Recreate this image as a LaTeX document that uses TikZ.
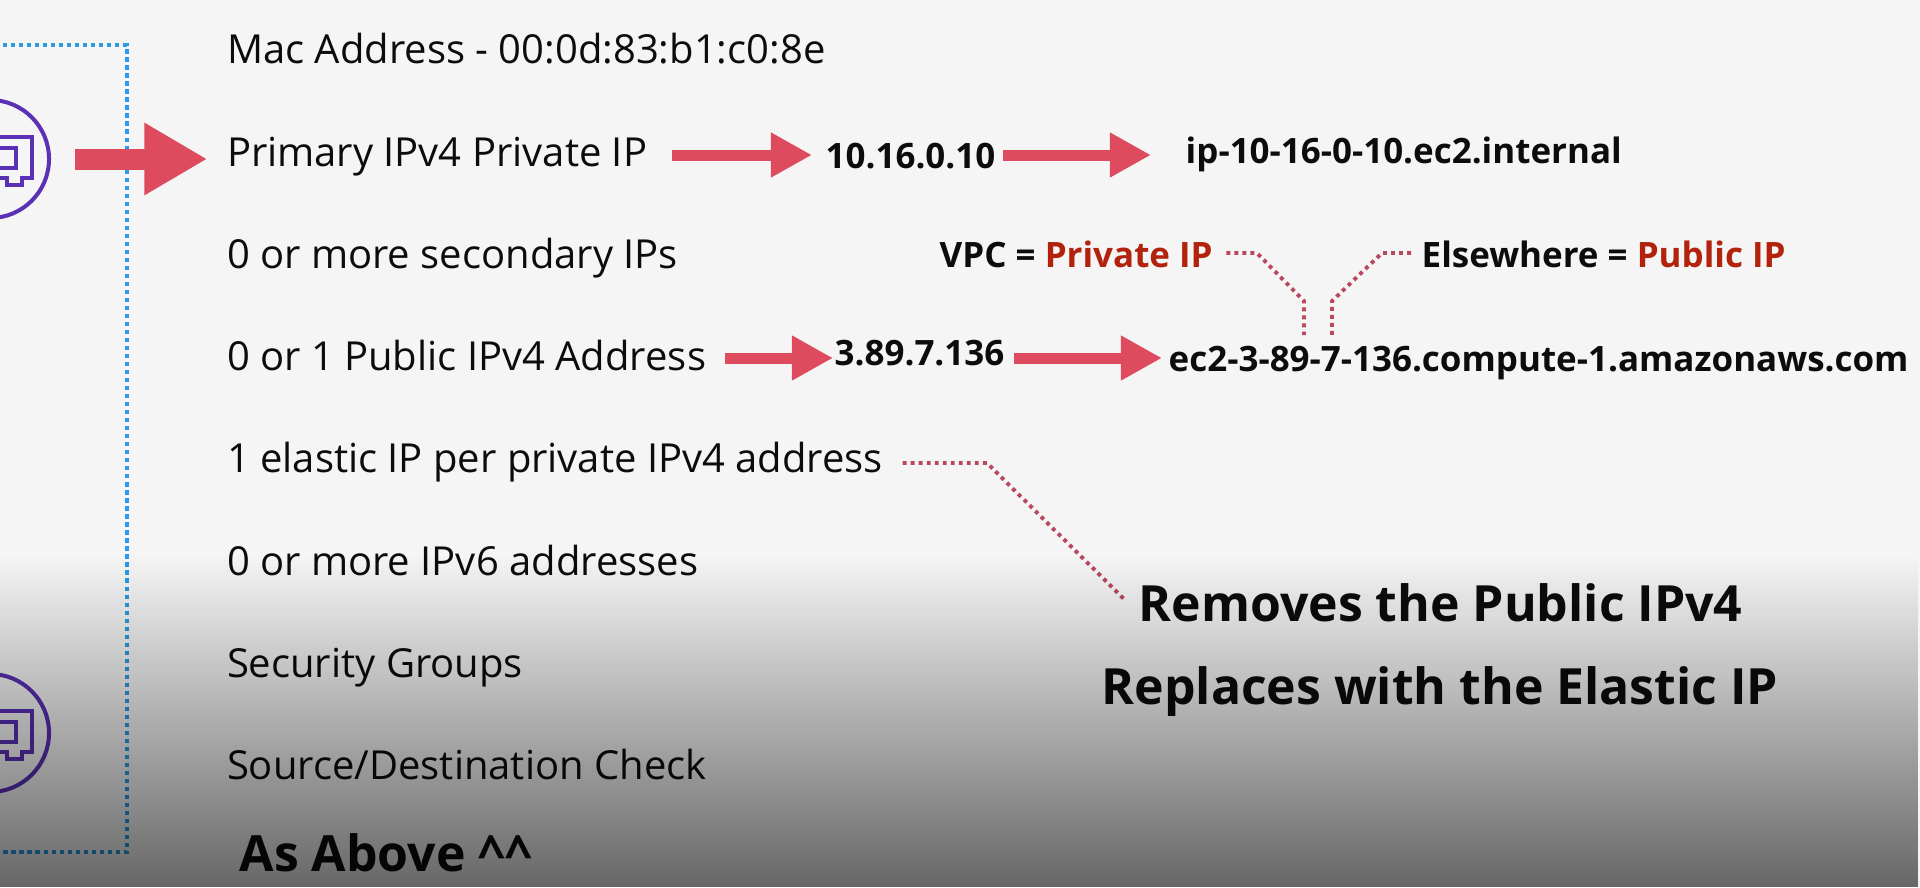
\documentclass[tikz,border=0pt]{standalone}
\usepackage{fontspec}
\setmainfont{Open Sans}
\usetikzlibrary{arrows.meta,positioning,fadings}
\definecolor{pageBg}{RGB}{245,245,245}
\definecolor{inkTxt}{RGB}{12,12,14}
\definecolor{redTxt}{RGB}{178,34,12}
\definecolor{redArr}{RGB}{222,74,94}
\definecolor{redDot}{RGB}{186,72,94}
\definecolor{bluDot}{RGB}{42,155,229}
\definecolor{nicPurple}{RGB}{90,48,181}
\tikzfading[name=dimdown,top color=transparent!100,bottom color=transparent!42]
\tikzset{
    row/.style={anchor=base west,inner sep=0pt,text=inkTxt,font=\fontsize{11.37pt}{13pt}\selectfont},
    val/.style={anchor=base west,inner sep=0pt,text=inkTxt,font=\fontsize{9.94pt}{12pt}\selectfont\bfseries},
    note/.style={anchor=base west,inner sep=0pt,text=inkTxt,font=\fontsize{14.2pt}{17pt}\selectfont\bfseries},
    arr/.style={draw=redArr,line width=.11cm,-{Triangle[length=.41cm,width=.42cm]},redArr},
    bigarr/.style={draw=redArr,line width=.21cm,-{Triangle[length=.63cm,width=.68cm]},redArr},
    dotline/.style={draw=redDot,line width=1.1pt,dash pattern=on 1.1pt off 1.18pt},
    nicbox/.style={draw=bluDot,line width=1.25pt,dash pattern=on 1.2pt off 1.08pt},
    nicring/.style={circle,draw=nicPurple,line width=.04cm,minimum size=1.18cm,inner sep=0pt},
    nicchip/.style={draw=nicPurple,line width=.045cm}
}

\begin{document}
\begin{tikzpicture}[x=0.01cm,y=-0.01cm]
    \useasboundingbox (0,0) rectangle (1920,887);
    \fill[pageBg] (0,0) rectangle (1920,887);

    \coordinate (boxTop) at (-5,45);
    \coordinate (boxCorner) at (127,852);
    \draw[nicbox] (boxTop) -| (boxCorner) -- (boxCorner -| boxTop);

    \foreach \n/\y in {nicA/159,nicB/733} {
        \node[nicring] (\n) at (-10,\y) {};
        \begin{scope}[shift={(0,\y)}]
            \draw[nicchip] (-20,-22) -- (32,-22) -- (32,19) -- (22,19) -- (22,26) -- (7,26) -- (7,19) -- (-20,19);
            \draw[nicchip] (-20,-11) -- (16,-11) -- (16,9) -- (-20,9);
        \end{scope}
    }

    \node[row] (mac)  at (226.3,63)  {Mac Address - 00:0d:83:b1:c0:8e};
    \node[row] (priv) at (226.3,166) {Primary IPv4 Private IP};
    \node[row] (sec)  at (226.3,268) {0 or more secondary IPs};
    \node[row] (pub)  at (226.3,370) {0 or 1 Public IPv4 Address};
    \node[row] (eip)  at (226.3,472) {1 elastic IP per private IPv4 address};
    \node[row] (six)  at (226.3,575) {0 or more IPv6 addresses};
    \node[row] (sg)   at (226.3,677) {Security Groups};
    \node[row] (sdc)  at (226.3,779) {Source/Destination Check};

    \node[val] (privip) at (825,168)  {10.16.0.10};
    \node[val] (ipname) at (1185,163) {ip-10-16-0-10.ec2.internal};
    \node[val] (vpc)    at (939,267)  {VPC = \textcolor{redTxt}{Private IP}};
    \node[val] (else)   at (1421,267) {Elsewhere = \textcolor{redTxt}{Public IP}};
    \node[val] (pubip)  at (834,365)  {3.89.7.136};
    \node[val] (ec2)    at (1168,371) {ec2-3-89-7-136.compute-1.amazonaws.com};

    \node[note] (removes)  at (1138,621) {Removes the Public IPv4};
    \node[note] (replaces) at (1101,704) {Replaces with the Elastic IP};
    \node[note] (above)    at (239,871)  {As Above \^{}\^{}};

    \coordinate (nicOut) at (75,159);
    \coordinate (rowPriv) at (0,155);
    \coordinate (rowPub) at (0,358);
    \draw[bigarr,shorten >=.19cm] (nicOut) -- (nicOut -| priv.west);
    \draw[arr,shorten <=.24cm,shorten >=.13cm] (priv.east |- rowPriv) -- (privip.west |- rowPriv);
    \draw[arr,shorten <=.07cm,shorten >=.34cm] (privip.east |- rowPriv) -- (ipname.west |- rowPriv);
    \draw[arr,shorten <=.18cm,shorten >=.01cm] (pub.east |- rowPub) -- (pubip.west |- rowPub);
    \draw[arr,shorten <=.09cm,shorten >=.06cm] (pubip.east |- rowPub) -- (ec2.west |- rowPub);

    \coordinate (vpcBend) at (1257,253);
    \coordinate (vpcDrop) at (1304,301);
    \coordinate (vpcEnd) at (1304,335);
    \coordinate (elseBend) at (1382,253);
    \coordinate (elseDrop) at (1332,301);
    \coordinate (elseEnd) at (1332,335);
    \coordinate (eipBend) at (987,463);
    \coordinate (eipEnd) at (1124,599);
    \draw[dotline,shorten <=.13cm] (vpc.east |- vpcBend) -- (vpcBend) -- (vpcDrop) -- (vpcEnd);
    \draw[dotline,shorten <=.1cm] (else.west |- elseBend) -- (elseBend) -- (elseDrop) -- (elseEnd);
    \draw[dotline,shorten <=.19cm] (eip.east |- eipBend) -- (eipBend) -- (eipEnd);

    \fill[black,path fading=dimdown] (0,555) rectangle (1920,887);
\end{tikzpicture}
\end{document}
